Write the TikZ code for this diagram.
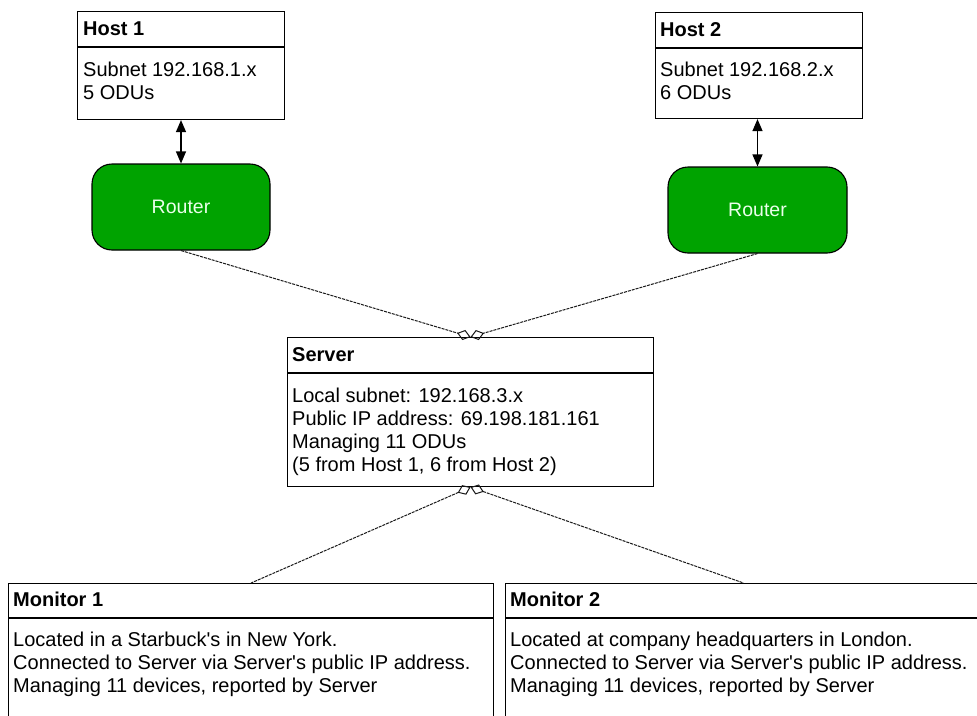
\documentclass[tikz,border=0pt]{standalone}
\usepackage{fontspec}
\setmainfont{Liberation Sans}
\usetikzlibrary{arrows.meta}
\definecolor{routergreen}{RGB}{0,163,0}
\definecolor{routertext}{RGB}{235,255,235}
\tikzset{
  odia/.tip={Diamond[open, length=14pt, width=10.5pt, line width=1pt]},
  tri/.tip={Triangle[length=12pt, width=10pt]}
}
\begin{document}
\begin{tikzpicture}[x=1pt,y=-1pt,
  box/.style={draw=black, line width=1.1pt, fill=white, inner sep=0pt, anchor=north west},
  router/.style={draw=black, line width=1.1pt, fill=routergreen, rounded corners=20pt, inner sep=0pt, text=routertext, font=\fontsize{19.5}{23}\selectfont},
  title/.style={anchor=base west, inner sep=0pt, font=\fontsize{20}{23}\selectfont\bfseries},
  body/.style={anchor=north west, inner sep=0pt, align=left, font=\fontsize{20}{23}\selectfont},
  link/.style={draw=black!90, line width=1pt, dash pattern=on 3pt off 1pt},
  bi/.style={{tri}-{tri}, line width=1.2pt},
  divider/.style={line width=1.1pt}
]
\useasboundingbox (0,0) rectangle (977,715);
\clip (0,0) rectangle (977,715);
\fill[white] (0,0) rectangle (977,715);

% Host 1
\node[box, minimum width=207pt, minimum height=108pt] (h1) at (77,11) {};
\draw[divider] ([yshift=-36pt]h1.north west) -- ([yshift=-36pt]h1.north east);
\node[title] (h1t) at (83,35) {Host 1};
\node[body] (h1b) at (83,62) {Subnet 192.168.1.x\\5 ODUs};

% Host 2
\node[box, minimum width=207pt, minimum height=106pt] (h2) at (655,12) {};
\draw[divider] ([yshift=-36pt]h2.north west) -- ([yshift=-36pt]h2.north east);
\node[title] (h2t) at (660,36) {Host 2};
\node[body] (h2b) at (660,62) {Subnet 192.168.2.x\\6 ODUs};

% Routers
\node[router, minimum width=178pt, minimum height=86pt] (r1) at (181,207) {Router};
\node[router, minimum width=179pt, minimum height=86pt] (r2) at (757.5,210) {Router};

\draw[bi] (r1.north |- h1.south) -- (r1.north);
\draw[bi] (r2.north |- h2.south) -- (r2.north);

% Server
\node[box, minimum width=366pt, minimum height=149pt] (s) at (287,337) {};
\draw[divider] ([yshift=-36pt]s.north west) -- ([yshift=-36pt]s.north east);
\node[title] (st) at (292,361) {Server};
\node[body] (sb) at (292,388) {Local subnet: 192.168.3.x\\Public IP address: 69.198.181.161\\Managing 11 ODUs\\(5 from Host 1, 6 from Host 2)};

% Monitors
\node[box, minimum width=485pt, minimum height=150pt] (m1) at (8,583) {};
\draw[divider] ([yshift=-35pt]m1.north west) -- ([yshift=-35pt]m1.north east);
\node[title] (m1t) at (13,606) {Monitor 1};
\node[body] (m1b) at (13,632) {Located in a Starbuck\textquotesingle s in New York.\\Connected to Server via Server\textquotesingle s public IP address.\\Managing 11 devices, reported by Server};

\node[box, minimum width=476pt, minimum height=150pt] (m2) at (505,583) {};
\draw[divider] ([yshift=-35pt]m2.north west) -- ([yshift=-35pt]m2.north east);
\node[title] (m2t) at (510,606) {Monitor 2};
\node[body] (m2b) at (510,632) {Located at company headquarters in London.\\Connected to Server via Server\textquotesingle s public IP address.\\Managing 11 devices, reported by Server};

% Links
\draw[link, -{odia}] (r1.south) -- (s.north);
\draw[link, -{odia}] (r2.south) -- (s.north);
\draw[link, {odia}-] (s.south) -- (m1.north);
\draw[link, {odia}-] (s.south) -- (m2.north);
\end{tikzpicture}
\end{document}
